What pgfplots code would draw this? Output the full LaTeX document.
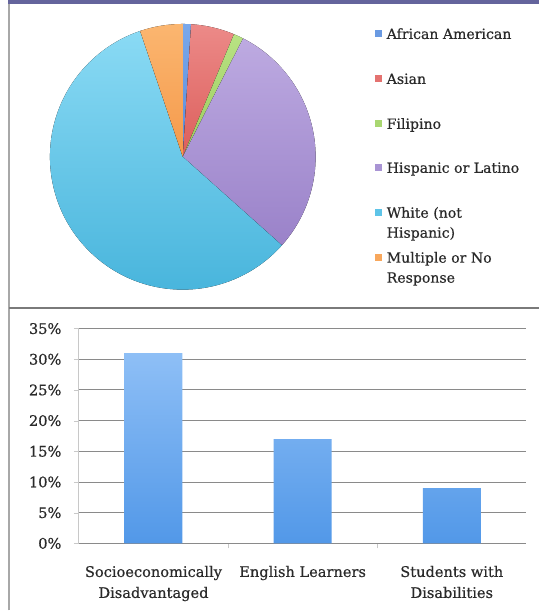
\documentclass[border=0pt]{standalone}
\usepackage{pgfplots}
\pgfplotsset{compat=1.18}
\usepackage{fontspec}
\setmainfont{DejaVu Serif}[FakeBold=0.5]
\definecolor{band}{HTML}{64649C}
\definecolor{framegray}{HTML}{A8A8A8}
\definecolor{sepgray}{HTML}{7A7A7A}
\definecolor{gridc}{HTML}{8A8A8A}
\definecolor{axc}{HTML}{C8C8C8}
\definecolor{txt}{HTML}{2A2A2A}
\definecolor{aaT}{HTML}{7AA8EA}\definecolor{aaB}{HTML}{5A8CDA}\definecolor{aaM}{HTML}{6A9AE2}
\definecolor{asT}{HTML}{EC8A88}\definecolor{asB}{HTML}{DC5E5B}\definecolor{asM}{HTML}{E47270}
\definecolor{fiT}{HTML}{B8E283}\definecolor{fiB}{HTML}{9CCB5E}\definecolor{fiM}{HTML}{A9D771}
\definecolor{hiT}{HTML}{BDAAE1}\definecolor{hiB}{HTML}{9A82C9}\definecolor{hiM}{HTML}{A994D4}
\definecolor{whT}{HTML}{8ADAF4}\definecolor{whB}{HTML}{45B3DB}\definecolor{whM}{HTML}{5EC4E8}
\definecolor{muT}{HTML}{FBB670}\definecolor{muB}{HTML}{F5994A}\definecolor{muM}{HTML}{F8A75C}
\definecolor{barT}{HTML}{8EBFF6}\definecolor{barB}{HTML}{5298E8}
\newcommand{\lgfont}{\fontsize{14.1}{16}\selectfont}
\begin{document}
\begin{tikzpicture}[x=1pt,y=1pt]
\fill[white] (0,0) rectangle (540,611);
\fill[band] (8,607) rectangle (540,611);
\draw[framegray, line width=1.5pt] (9,0) -- (9,607);
\draw[sepgray, line width=1.8pt] (9,302.5) -- (540,302.5);

% ---------------- pie ----------------
% shares (%): African American 1.0, Asian 5.3, Filipino 1.2, Hispanic 29.1, White 58.2, Multiple 5.2
\begin{axis}[at={(50pt,321pt)}, anchor=south west, scale only axis,
  width=266pt, height=266pt, xmin=-1, xmax=1, ymin=-1, ymax=1,
  hide axis, clip=false]
\fill[top color=aaT, bottom color=aaB] (axis cs:0,0) -- ++({90-3.6*0}:133pt)
  arc[start angle={90-3.6*0}, end angle={90-3.6*1.0}, radius=133pt] -- cycle;
\fill[top color=asT, bottom color=asB] (axis cs:0,0) -- ++({90-3.6*1.0}:133pt)
  arc[start angle={90-3.6*1.0}, end angle={90-3.6*6.3}, radius=133pt] -- cycle;
\fill[top color=fiT, bottom color=fiB] (axis cs:0,0) -- ++({90-3.6*6.3}:133pt)
  arc[start angle={90-3.6*6.3}, end angle={90-3.6*7.5}, radius=133pt] -- cycle;
\fill[top color=hiT, bottom color=hiB] (axis cs:0,0) -- ++({90-3.6*7.5}:133pt)
  arc[start angle={90-3.6*7.5}, end angle={90-3.6*36.6}, radius=133pt] -- cycle;
\fill[top color=whT, bottom color=whB] (axis cs:0,0) -- ++({90-3.6*36.6}:133pt)
  arc[start angle={90-3.6*36.6}, end angle={90-3.6*94.8}, radius=133pt] -- cycle;
\fill[top color=muT, bottom color=muB] (axis cs:0,0) -- ++({90-3.6*94.8}:133pt)
  arc[start angle={90-3.6*94.8}, end angle={90-3.6*100}, radius=133pt] -- cycle;
\end{axis}

% legend
\foreach \yb/\c/\t in {572/aaM/African American, 527/asM/Asian, 482/fiM/Filipino,
  438/hiM/Hispanic or Latino, 393/whM/White (not, 348/muM/Multiple or No}{
  \fill[\c] (375,\yb+1.5) rectangle (382,\yb+8.5);
  \node[anchor=base west, inner sep=0pt, text=txt, font=\lgfont] at (387,\yb) {\t};
}
\node[anchor=base west, inner sep=0pt, text=txt, font=\lgfont] at (387,373) {Hispanic)};
\node[anchor=base west, inner sep=0pt, text=txt, font=\lgfont] at (387,328) {Response};

% ---------------- bars ----------------
\begin{axis}[at={(79pt,67pt)}, anchor=south west, scale only axis,
  width=448pt, height=215pt,
  xmin=-0.5, xmax=2.5, ymin=0, ymax=35,
  axis x line*=bottom, axis y line*=left,
  x axis line style={gridc, line width=0.9pt},
  y axis line style={axc, line width=0.9pt},
  ytick={0,5,...,35}, ymajorgrids,
  grid style={gridc, line width=0.9pt},
  xtick={0,1,2},
  xticklabels={{Socioeconomically\\Disadvantaged},{English Learners},{Students with\\Disabilities}},
  xticklabel style={align=center, font=\fontsize{14.6}{21}\selectfont, text=txt, yshift=-14pt},
  yticklabel={\pgfmathprintnumber[assume math mode=true]{\tick}\%},
  yticklabel style={font=\fontsize{14.6}{17}\selectfont, text=txt, xshift=-9pt},
  tick align=outside, major tick length=5pt, minor tick length=5pt,
  major x tick style={draw=none},
  minor xtick={0.5,1.5}, minor x tick style={axc},
  y tick style={axc},
]
\addplot[ybar, bar width=58pt, draw=none, top color=barT, bottom color=barB]
  coordinates {(0,31) (1,17) (2,9)};
\end{axis}
\end{tikzpicture}
\end{document}
